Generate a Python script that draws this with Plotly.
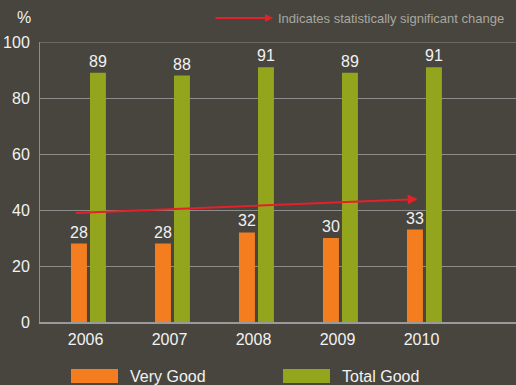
import plotly.graph_objects as go

years = ["2006", "2007", "2008", "2009", "2010"]
very_good = [28, 28, 32, 30, 33]
total_good = [89, 88, 91, 89, 91]
trend_start = 38.9
trend_end = 43.9
y_ticks = [0, 20, 40, 60, 80, 100]

BG = "#47453d"
ORANGE = "#f47d20"
GREEN = "#93a51d"
RED = "#e4202a"
FONT = "Liberation Sans, Arial, sans-serif"

PL, PB, PW, PH = 40, 63, 476, 280  # plot area (left, bottom margin, width, height)


def px_x(x):
    return (x - PL) / PW


def px_y(y):
    return (385 - PB - y) / PH


xpos = list(range(len(years)))

fig = go.Figure()
fig.add_trace(go.Bar(
    x=xpos, y=very_good, name="Very Good", marker=dict(color=ORANGE, line=dict(width=0)),
    width=0.19, offset=-0.208, text=[str(v) for v in very_good],
    textposition="outside", constraintext="none",
    textfont=dict(color="#f2f2f2", size=16, family=FONT),
    cliponaxis=False, showlegend=False))
fig.add_trace(go.Bar(
    x=xpos, y=total_good, name="Total Good", marker=dict(color=GREEN, line=dict(width=0)),
    width=0.19, offset=0.018, text=[str(v) for v in total_good],
    textposition="outside", constraintext="none",
    textfont=dict(color="#f2f2f2", size=16, family=FONT),
    cliponaxis=False, showlegend=False))

fig.update_layout(
    width=516, height=385,
    paper_bgcolor=BG, plot_bgcolor=BG,
    margin=dict(l=PL, r=0, t=42, b=PB),
    font=dict(family=FONT, color="#f2f2f2", size=16),
    barmode="overlay",
    xaxis=dict(range=[-0.577, 5.09], tickvals=[x - 0.035 for x in xpos], ticktext=years,
               showgrid=False, zeroline=False, showline=True, linecolor="#9a9a9a",
               linewidth=2, ticks="outside", ticklen=2, tickcolor="rgba(0,0,0,0)",
               tickfont=dict(size=16, color="#f2f2f2")),
    yaxis=dict(range=[0, 100], tickvals=y_ticks, showgrid=True, gridcolor="#8c8c8c",
               gridwidth=1, zeroline=False, showline=True, linecolor="#8c8c8c",
               linewidth=1, ticks="outside", ticklen=6, tickcolor="rgba(0,0,0,0)",
               tickfont=dict(size=16, color="#f2f2f2")),
)

# top grid line at 100
fig.add_shape(type="line", xref="paper", yref="y", x0=0, x1=1, y0=100, y1=100,
              line=dict(color="#8c8c8c", width=1))

# trend arrow
fig.add_annotation(x=3.92, y=trend_end, ax=-0.17, ay=trend_start, xref="x", yref="y",
                   axref="x", ayref="y", showarrow=True, arrowhead=2, arrowsize=1,
                   arrowwidth=2, arrowcolor=RED, text="")

# "%" label
fig.add_annotation(x=px_x(24), y=px_y(17), xref="paper", yref="paper", text="%",
                   xanchor="center", yanchor="middle",
                   showarrow=False, font=dict(size=16, color="#f2f2f2"))

# top legend arrow + text
fig.add_annotation(xref="paper", yref="paper", x=px_x(273), y=px_y(18),
                   ax=-59, ay=0, showarrow=True, arrowhead=2, arrowsize=0.8,
                   arrowwidth=2, arrowcolor=RED, text="")
fig.add_annotation(xref="paper", yref="paper", x=px_x(276), y=px_y(18),
                   xanchor="left", yanchor="middle", showarrow=False,
                   text="Indicates statistically significant change",
                   font=dict(size=13, color="#a8a8a0"))

# bottom legend
for x0, color, label in [(71, ORANGE, "Very Good"), (283, GREEN, "Total Good")]:
    fig.add_shape(type="rect", xref="paper", yref="paper",
                  x0=px_x(x0), x1=px_x(x0 + 47), y0=px_y(383), y1=px_y(369),
                  fillcolor=color, line=dict(width=0))
    fig.add_annotation(xref="paper", yref="paper", x=px_x(x0 + 57), y=px_y(376),
                       xanchor="left", yanchor="middle", showarrow=False, text=label,
                       font=dict(size=16, color="#f2f2f2"))

fig.write_html("out.html")
